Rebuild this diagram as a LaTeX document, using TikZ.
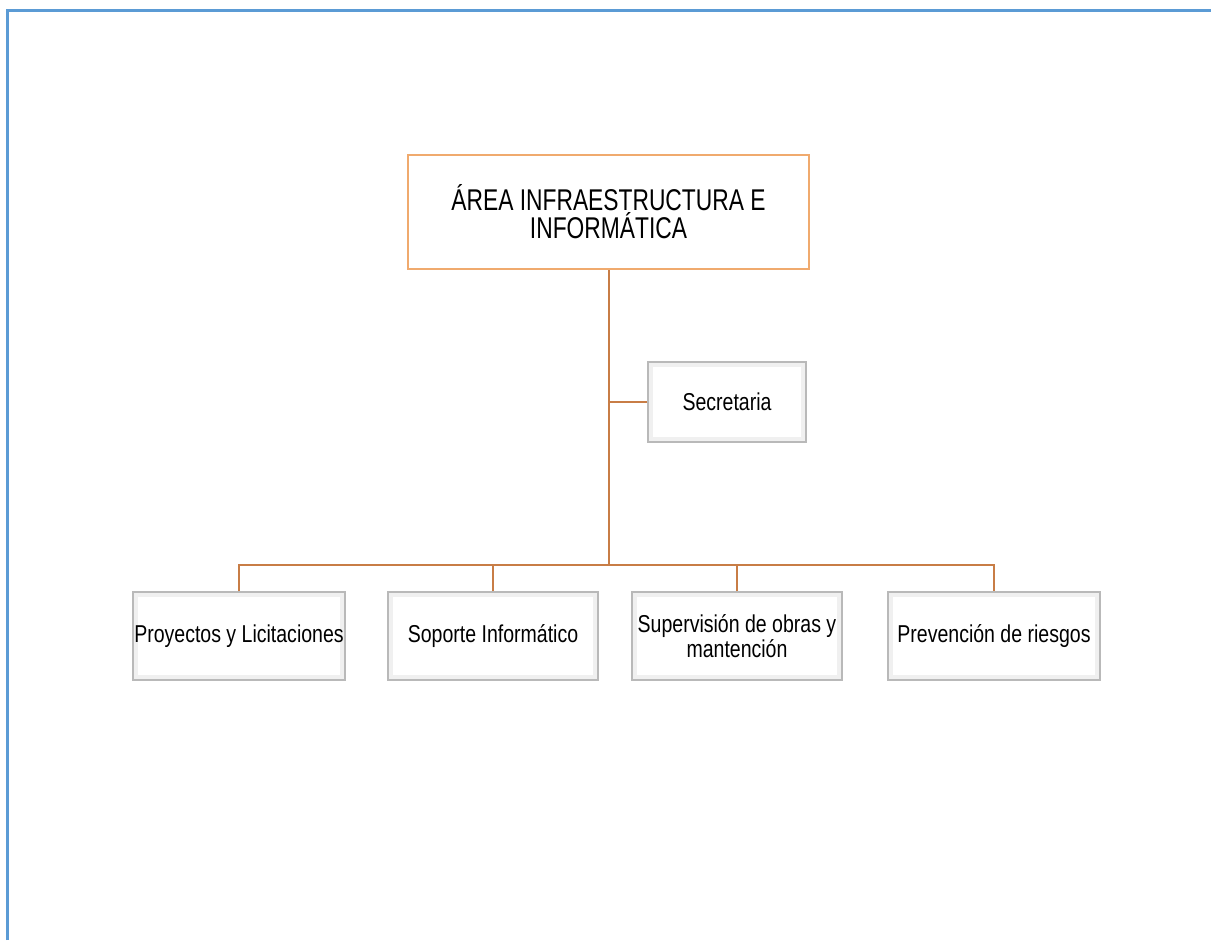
\documentclass[tikz,border=0pt]{standalone}
\usepackage{fontspec}
\setmainfont{Liberation Sans}[FakeStretch=0.8]
\newfontfamily\headfont{Liberation Sans}[FakeStretch=0.76]
\begin{document}
\begin{tikzpicture}[x=0.75pt,y=-0.75pt,
  frameblue/.style={draw={rgb,255:red,91;green,155;blue,213},line width=2.25pt},
  link/.style={draw={rgb,255:red,200;green,125;blue,70},line width=1.5pt},
  headbox/.style={draw={rgb,255:red,240;green,170;blue,110},line width=1.5pt,fill=white,
    align=center,inner sep=0pt,font=\headfont\fontsize{22.5}{21}\selectfont},
  unitbox/.style={draw=gray!55,line width=0.8pt,fill=gray!12,align=center,inner sep=0pt,
    font=\fontsize{18.3}{14.5}\selectfont,
    path picture={\fill[white] ([shift={(3.5pt,-3.5pt)}]path picture bounding box.north west)
      rectangle ([shift={(-3.5pt,3.5pt)}]path picture bounding box.south east);}}
]
\useasboundingbox (0,0) rectangle (1211,940);
\coordinate (fb) at (7,940);
\coordinate (fc) at (7,10);
\coordinate (fr) at (1211,10);
\draw[frameblue] (fb) -- (fc) -- (fr);

\node[headbox,minimum width=300.75pt,minimum height=85.5pt] (top) at (608.5,212)
  {ÁREA INFRAESTRUCTURA E\\INFORMÁTICA};
\node[unitbox,minimum width=118.5pt,minimum height=60pt] (sec) at (727,402) {Secretaria};

\node[unitbox,minimum width=159pt,minimum height=66pt] (p1) at (239,636) {Proyectos y Licitaciones};
\node[unitbox,minimum width=157.5pt,minimum height=66pt] (p2) at (493,636) {Soporte Informático};
\node[unitbox,minimum width=157.5pt,minimum height=66pt] (p3) at (737,636) {Supervisión de obras y\\mantención};
\node[unitbox,minimum width=159pt,minimum height=66pt] (p4) at (994,636) {Prevención de riesgos};

\coordinate (hub) at (608.5,565);
\draw[link] (top.south) -- (hub);
\draw[link] (sec.west) -| (top.south);
\draw[link] (p1.north) |- (hub) -| (p4.north);
\draw[link] (p2.north) -- (p2.north |- hub);
\draw[link] (p3.north) -- (p3.north |- hub);
\end{tikzpicture}
\end{document}
